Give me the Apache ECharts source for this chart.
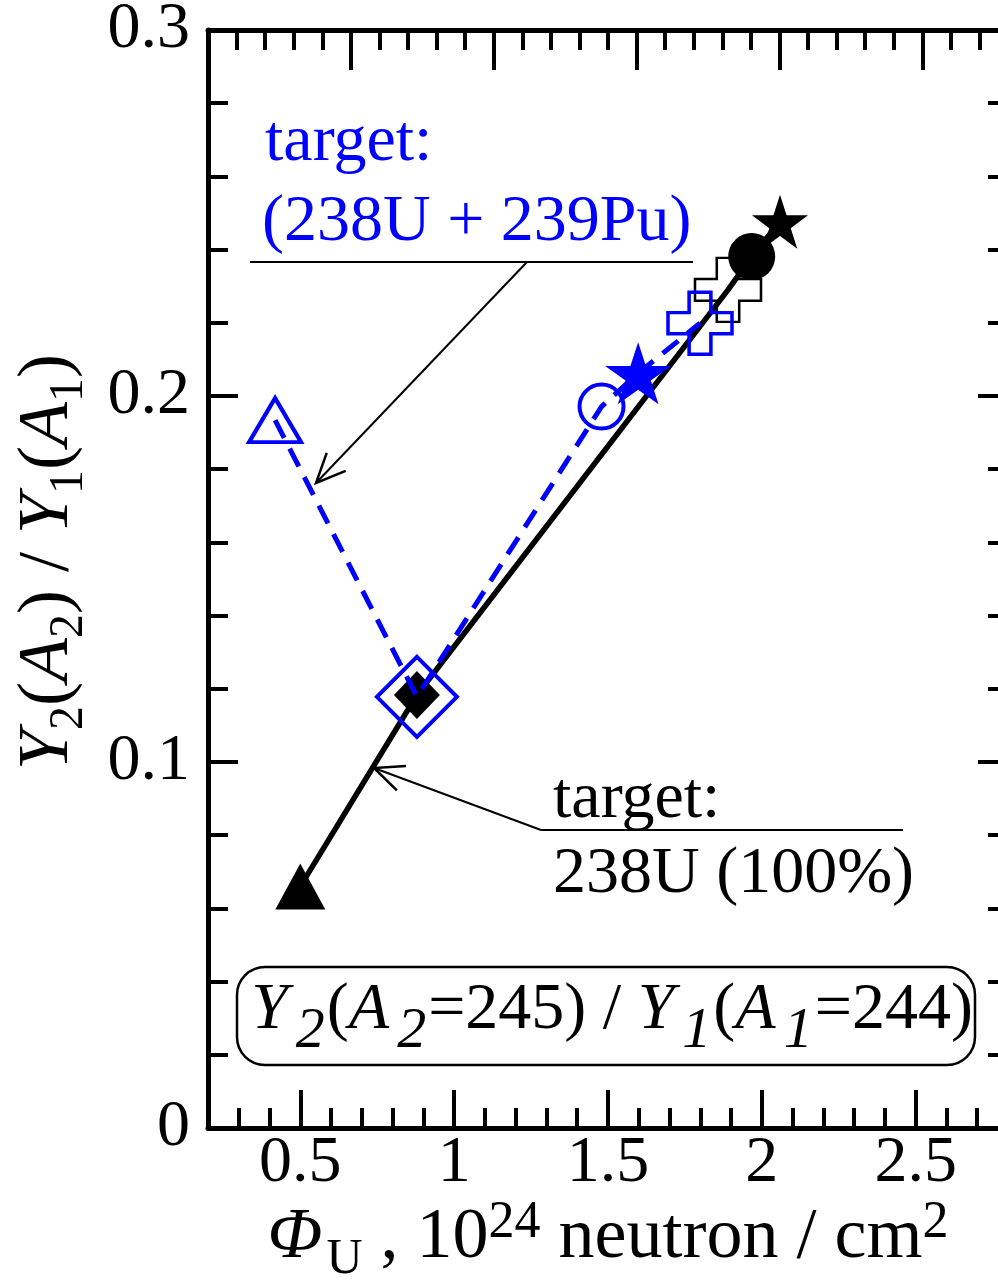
<!DOCTYPE html>
<html><head><meta charset="utf-8">
<script src="https://cdn.jsdelivr.net/npm/echarts@6/dist/echarts.min.js"></script>
<style>html,body{margin:0;padding:0;overflow:hidden;background:#fff;width:998px;height:1281px}
#c{width:1012px;height:1281px}</style></head>
<body><div id="c"></div>
<script>
// ---------------- data ----------------
const u238X = [0.50, 0.879, 1.890, 1.967, 2.059];
const u238Y = [0.066, 0.1183, 0.229, 0.2381, 0.2476];
const mixX = [0.418, 0.879, 1.479, 1.598, 1.799];
const mixY = [0.1934, 0.1178, 0.1971, 0.2062, 0.2199];
const xMajorTicks = [0.5, 1, 1.5, 2, 2.5];
const xTickLabels = ['0.5', '1', '1.5', '2', '2.5'];
const yTickLabels = ['0', '0.1', '0.2', '0.3'];

// ---------------- styles ----------------
const FONT = '"Liberation Serif","Times New Roman",serif';
const BLUE = '#0000ff';
const STAR = 'path://M50 0 L61.2 34.5 L97.6 34.5 L68.2 55.9 L79.4 90.5 L50 69.1 L20.6 90.5 L31.8 55.9 L2.4 34.5 L38.8 34.5 Z';
const PLUS = 'path://M33 0 L67 0 L67 33 L100 33 L100 67 L67 67 L67 100 L33 100 L33 67 L0 67 L0 33 L33 33 Z';
const NONE = 'rgba(0,0,0,0)';
const u238Marks = [
  {symbol: 'triangle', size: [50, 46], color: '#000'},
  {symbol: 'diamond', size: [46, 48], color: '#000'},
  {symbol: PLUS, size: [66, 64], color: NONE, border: '#000', bw: 2.5},
  {symbol: 'circle', size: [47, 47], color: '#000'},
  {symbol: STAR, size: [56, 54], color: '#000'}
];
const mixMarks = [
  {symbol: 'triangle', size: [52, 44], color: NONE, border: BLUE, bw: 4},
  {symbol: 'diamond', size: [80, 80], color: NONE, border: BLUE, bw: 4},
  {symbol: 'circle', size: [44, 44], color: NONE, border: BLUE, bw: 4},
  {symbol: STAR, size: [66, 62], color: BLUE},
  {symbol: PLUS, size: [64, 62], color: NONE, border: BLUE, bw: 3.5}
];
function items(xs, ys, marks) {
  return xs.map((x, i) => {
    const m = marks[i];
    return {
      value: [x, ys[i]], symbol: m.symbol, symbolSize: m.size,
      itemStyle: {color: m.color, borderColor: m.border || m.color, borderWidth: m.bw || 0}
    };
  });
}
function arrowHead(x1, y1, x2, y2, len, ang) {
  const a = Math.atan2(y1 - y2, x1 - x2);
  return [[x2 + len * Math.cos(a + ang), y2 + len * Math.sin(a + ang)], [x2, y2],
          [x2 + len * Math.cos(a - ang), y2 + len * Math.sin(a - ang)]];
}
const axisLineStyle = {show: true, onZero: false, lineStyle: {color: '#000', width: 5}};
const tickStyle = {color: '#000', width: 4};
const txt = (x, y, text, size, color) => ({type: 'text', x: x, y: y, style: {text: text, font: size + 'px ' + FONT, fill: color,
  align: 'left', verticalAlign: 'middle', textAlign: 'left', textVerticalAlign: 'middle'}});

const chart = echarts.init(document.getElementById('c'), null, {renderer: 'canvas'});
const option = {
  animation: false,
  backgroundColor: '#fff',
  textStyle: {fontFamily: FONT},
  grid: {left: 208, right: 4, top: 30, bottom: 153, containLabel: false, outerBoundsMode: 'none'},
  xAxis: [
    { type: 'value', position: 'bottom', min: 0.2, max: 2.8, interval: 0.1,
      axisLine: axisLineStyle, splitLine: {show: false},
      axisTick: {show: true, inside: true, length: 20, lineStyle: tickStyle},
      axisLabel: {show: false} },
    { type: 'value', position: 'bottom', min: 0.2, max: 2.8,
      axisLine: {show: false, onZero: false}, splitLine: {show: false},
      axisTick: {show: true, inside: true, length: 38, lineStyle: tickStyle, customValues: xMajorTicks},
      axisLabel: {show: true, customValues: xMajorTicks, margin: 3, fontSize: 66, color: '#000', fontFamily: FONT,
        formatter: v => { let b = 0; xMajorTicks.forEach((t, i) => { if (Math.abs(t - v) < 1e-6) b = i; }); return xTickLabels[b]; }} },
    { type: 'value', position: 'top', min: 0, max: 5.6, interval: 1,
      axisLine: axisLineStyle, splitLine: {show: false},
      axisTick: {show: true, inside: true, length: 40, lineStyle: tickStyle},
      minorTick: {show: true, splitNumber: 5, length: 20, lineStyle: tickStyle},
      axisLabel: {show: false} }
  ],
  yAxis: [
    { type: 'value', position: 'left', min: 0, max: 0.3, interval: 0.1,
      axisLine: axisLineStyle, splitLine: {show: false},
      axisTick: {show: true, inside: true, length: 30, lineStyle: tickStyle},
      minorTick: {show: true, splitNumber: 5, length: 20, lineStyle: tickStyle},
      axisLabel: {show: true, margin: 18, fontSize: 66, color: '#000', fontFamily: FONT,
        formatter: v => yTickLabels[Math.round(v * 10)]} },
    { type: 'value', position: 'right', min: 0, max: 0.3, interval: 0.1,
      axisLine: axisLineStyle, splitLine: {show: false},
      axisTick: {show: true, inside: true, length: 30, lineStyle: tickStyle},
      minorTick: {show: true, splitNumber: 5, length: 20, lineStyle: tickStyle},
      axisLabel: {show: false} }
  ],
  series: [
    { name: '238U (100%)', type: 'line', xAxisIndex: 0, yAxisIndex: 0,
      data: items(u238X, u238Y, u238Marks),
      lineStyle: {color: '#000', width: 5.5}, emphasis: {disabled: true}, z: 2 },
    { name: '238U + 239Pu', type: 'line', xAxisIndex: 0, yAxisIndex: 0,
      data: items(mixX, mixY, mixMarks),
      lineStyle: {color: BLUE, width: 5, type: [20, 12]}, emphasis: {disabled: true}, z: 3 }
  ],
  graphic: [
    // blue annotation
    txt(265, 143, 'target:', 66, BLUE),
    txt(262, 223, '(238U + 239Pu)', 66, BLUE),
    {type: 'line', shape: {x1: 250, y1: 262, x2: 693, y2: 262}, style: {stroke: '#000', lineWidth: 2}},
    {type: 'line', shape: {x1: 527, y1: 262, x2: 316, y2: 483}, style: {stroke: '#000', lineWidth: 2}},
    {type: 'polyline', shape: {points: arrowHead(527, 262, 316, 483, 32, 0.42)}, style: {stroke: '#000', lineWidth: 2.5, fill: null}},
    // black annotation
    txt(553, 800, 'target:', 66, '#000'),
    txt(553, 875, '238U (100%)', 66, '#000'),
    {type: 'line', shape: {x1: 541, y1: 830, x2: 903, y2: 830}, style: {stroke: '#000', lineWidth: 2}},
    {type: 'line', shape: {x1: 541, y1: 830, x2: 374, y2: 768}, style: {stroke: '#000', lineWidth: 2}},
    {type: 'polyline', shape: {points: arrowHead(541, 830, 374, 768, 32, 0.42)}, style: {stroke: '#000', lineWidth: 2.5, fill: null}},
    // boxed ratio label
    {type: 'rect', shape: {x: 237, y: 967, width: 738, height: 98, r: 28}, style: {stroke: '#000', lineWidth: 2.5, fill: null}},
    {type: 'text', x: 612, y: 1011, style: {
      text: '{m|Y}{s|2}{n|(}{m|A}{s|2}{n|=245) / }{m|Y}{s|1}{n|(}{m|A}{s|1}{n|=244)}',
      align: 'center', verticalAlign: 'middle', textAlign: 'center', textVerticalAlign: 'middle',
      rich: {
        m: {fontFamily: FONT, fontSize: 66, fontStyle: 'italic', lineHeight: 90, fill: '#000', color: '#000'},
        n: {fontFamily: FONT, fontSize: 66, lineHeight: 90, fill: '#000', color: '#000'},
        s: {fontFamily: FONT, fontSize: 58, fontStyle: 'italic', lineHeight: 90, padding: [42, 2, 0, 8], fill: '#000', color: '#000'}
      }}},
    // x axis title
    {type: 'text', x: 608, y: 1238, style: {
      text: '{i|Φ}{sub|U}{n| , 10}{sup|24}{n| neutron / cm}{sup|2}',
      align: 'center', verticalAlign: 'middle', textAlign: 'center', textVerticalAlign: 'middle',
      rich: {
        i: {fontFamily: FONT, fontSize: 72, fontStyle: 'italic', lineHeight: 100, fill: '#000', color: '#000'},
        n: {fontFamily: FONT, fontSize: 72, lineHeight: 100, fill: '#000', color: '#000'},
        sub: {fontFamily: FONT, fontSize: 50, lineHeight: 100, padding: [43, 0, 0, 4], fill: '#000', color: '#000'},
        sup: {fontFamily: FONT, fontSize: 52, lineHeight: 100, padding: [0, 0, 29, 0], fill: '#000', color: '#000'}
      }}},
    // y axis title
    {type: 'text', x: 48, y: 562, rotation: Math.PI / 2, style: {
      text: '{m|Y}{s|2}{n|(}{m|A}{s|2}{n|) / }{m|Y}{s|1}{n|(}{m|A}{s|1}{n|)}',
      align: 'center', verticalAlign: 'middle', textAlign: 'center', textVerticalAlign: 'middle',
      rich: {
        m: {fontFamily: FONT, fontSize: 72, fontStyle: 'italic', lineHeight: 100, fill: '#000', color: '#000'},
        n: {fontFamily: FONT, fontSize: 72, lineHeight: 100, fill: '#000', color: '#000'},
        s: {fontFamily: FONT, fontSize: 48, lineHeight: 100, padding: [42, 0, 0, 0], fill: '#000', color: '#000'}
      }}}
  ]
};
chart.setOption(option);
</script></body></html>
